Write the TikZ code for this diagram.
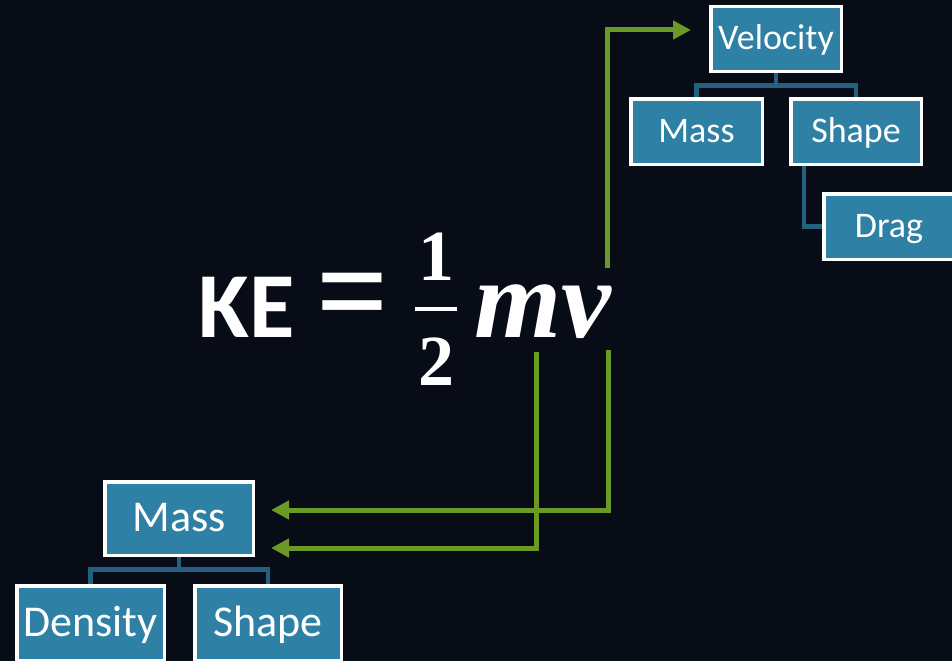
\documentclass[tikz,border=0pt]{standalone}
\usepackage{fontspec}
\setmainfont{Carlito}
\newfontfamily\mathserif{Liberation Serif}
\usetikzlibrary{arrows.meta,calc}
\definecolor{bg}{HTML}{070C16}
\definecolor{boxfill}{HTML}{2F80A5}
\definecolor{treeline}{HTML}{22617F}
\definecolor{arrowgreen}{HTML}{6A9A25}

\begin{document}
\begin{tikzpicture}[x=1pt,y=-1pt,
  boxT/.style={draw=white, line width=3.5pt, fill=boxfill, text=white,
    font=\fontsize{36}{40}\selectfont, text height=25.2pt, text depth=3.6pt, inner sep=0pt},
  boxB/.style={draw=white, line width=3.5pt, fill=boxfill, text=white,
    font=\fontsize{44}{48}\selectfont, text height=30.8pt, text depth=4.4pt, inner sep=0pt},
  tree/.style={draw=treeline, line width=4.5pt},
  garrow/.style={draw=arrowgreen, line width=5pt,
    -{Triangle[length=18pt,width=18pt]}},
  formula/.style={text=white, inner sep=0pt}]

% canvas
\fill[bg] (0,0) rectangle (952,661);
\useasboundingbox (0,0) rectangle (952,661);
\clip (0,0) rectangle (952,661);

% velocity tree
\node[boxT, minimum width=130.5, minimum height=64.5] (vel) at (776,39) {Velocity};
\node[boxT, minimum width=131.5, minimum height=65.5] (massT) at (696.5,131.5) {Mass};
\node[boxT, minimum width=130.5, minimum height=65.5] (shapeT) at (856,131.5) {Shape};
\node[boxT, minimum width=130.5, minimum height=65.5] (drag) at (889,226.5) {Drag};

\draw[tree] (vel.south) -- ++(0,12.5) coordinate (vj);
\draw[tree] (massT.north) |- (vj) -| (shapeT.north);
\draw[tree] ($(shapeT.south west)+(15,0)$) |- (drag.west);

% mass tree
\node[boxB, minimum width=148.5, minimum height=73.5] (massB) at (179,518.5) {Mass};
\node[boxB, minimum width=147.5, minimum height=74.5] (dens) at (90.5,623) {Density};
\node[boxB, minimum width=146.5, minimum height=74.5] (shapeB) at (268,623) {Shape};

\draw[tree] (massB.south) -- ++(0,12.5) coordinate (mj);
\draw[tree] (dens.north) |- (mj) -| (shapeB.north);

% kinetic energy formula
\node[formula, anchor=base west, font=\fontsize{93}{93}\selectfont\bfseries] (ke) at (198,337) {KE};
\node[formula, anchor=base] (eq) at (352.5,337) {\scalebox{1.2}[1.3]{\fontsize{106}{106}\mathserif\bfseries\selectfont =}};
\node[formula, anchor=base, font=\fontsize{72}{72}\mathserif\bfseries] (one) at (436,280) {1};
\node[formula, anchor=base, font=\fontsize{72}{72}\mathserif\bfseries] (two) at (436,385) {2};
\draw[white, line width=4.5pt] (415,309) -- (457,309);
\node[formula, anchor=base west, font=\fontsize{112}{112}\mathserif\bfseries\itshape] (mv) at (474,337) {mv};

% links from the formula to the trees
\coordinate (vup) at (607,268);
\coordinate (vdown) at (608,350);
\coordinate (mdown) at (536,352);
\draw[garrow, shorten >=18pt] (vup) |- ([yshift=9pt]vel.west);
\draw[garrow, shorten >=16pt] (vdown) |- ([yshift=8.5pt]massB.east);
\draw[garrow, shorten >=16pt] (mdown) |- ([yshift=-29.5pt]massB.east);
\end{tikzpicture}
\end{document}
